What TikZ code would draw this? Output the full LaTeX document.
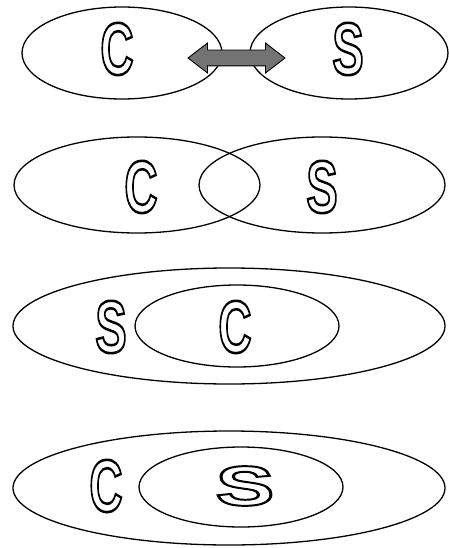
\documentclass[tikz,border=0pt]{standalone}
\usepackage{fontspec}
\setmainfont{Liberation Sans}
\usepackage{graphicx}
\usetikzlibrary{shapes.geometric, shapes.arrows}

% hollow letter: x scale, y scale, letter
\newcommand{\hollow}[3]{\scalebox{#1}[#2]{\fontsize{40}{40}\bfseries\selectfont
  \special{pdf:literal direct 1 Tr 1.4 w}#3\special{pdf:literal direct 0 Tr}}}

\begin{document}
\begin{tikzpicture}[x=1pt, y=-1pt,
  set/.style={draw, ellipse, line width=1.3pt, inner sep=0pt},
  letter/.style={inner sep=0pt}]
  \useasboundingbox (0,0) rectangle (449,548);

  % apart
  \node[set, minimum width=200pt, minimum height=92pt] (client1) at (122,53) {};
  \node[set, minimum width=198pt, minimum height=92pt] (server1) at (349,53) {};
  \node[letter] (c1) at (117,49) {\hollow{1.15}{1.85}{C}};
  \node[letter] (s1) at (348,49) {\hollow{1.18}{1.85}{S}};
  \node[double arrow, draw, fill=black!55, line width=0.9pt,
        inner xsep=0pt, inner ysep=7.5pt, minimum height=97pt,
        double arrow head extend=7pt, double arrow tip angle=75] (link) at (236.5,58) {};

  % overlap
  \node[set, minimum width=246pt, minimum height=96pt] (client2) at (137,185) {};
  \node[set, minimum width=246pt, minimum height=96pt] (server2) at (322,185) {};
  \node[letter] (c2) at (141,187) {\hollow{1.15}{1.85}{C}};
  \node[letter] (s2) at (322,187) {\hollow{1.18}{1.85}{S}};

  % C inside S
  \node[set, minimum width=432pt, minimum height=116pt] (server3) at (229,326) {};
  \node[set, minimum width=204pt, minimum height=82pt] (client3) at (237,326) {};
  \node[letter] (s3) at (111,327) {\hollow{1.18}{1.85}{S}};
  \node[letter] (c3) at (235,327) {\hollow{1.15}{1.85}{C}};

  % S inside C
  \node[set, minimum width=432pt, minimum height=114pt] (client4) at (229,488) {};
  \node[set, minimum width=204pt, minimum height=80pt] (server4) at (241,487) {};
  \node[letter] (c4) at (106,486) {\hollow{1.15}{1.85}{C}};
  \node[letter] (s4) at (245,486) {\hollow{2.2}{1.4}{S}};
\end{tikzpicture}
\end{document}
